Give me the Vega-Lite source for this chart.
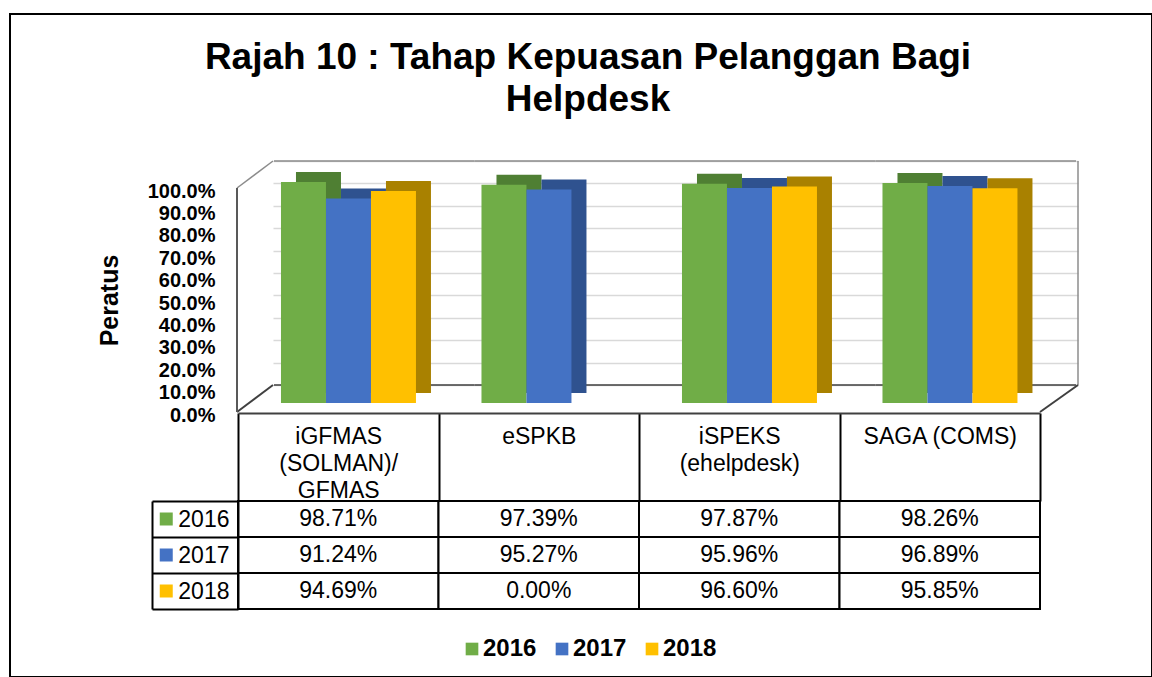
{
  "$schema": "https://vega.github.io/schema/vega-lite/v6.json",
  "autosize": {"type": "none"},
  "padding": {"left": 10, "top": 14, "right": 0, "bottom": 0},
  "width": 1142,
  "height": 663,
  "background": "white",
  "title": {
    "text": ["Rajah 10 : Tahap Kepuasan Pelanggan Bagi", "Helpdesk"],
    "fontSize": 37,
    "fontWeight": "bold",
    "font": "Liberation Sans",
    "color": "#000000",
    "anchor": "middle",
    "frame": "group",
    "offset": -116,
    "lineHeight": 42,
    "dx": 7
  },
  "data": {
    "values": [
      {"category": "iGFMAS (SOLMAN)/GFMAS", "year": "2016", "value": 0.9871},
      {"category": "iGFMAS (SOLMAN)/GFMAS", "year": "2017", "value": 0.9124},
      {"category": "iGFMAS (SOLMAN)/GFMAS", "year": "2018", "value": 0.9469},
      {"category": "eSPKB", "year": "2016", "value": 0.9739},
      {"category": "eSPKB", "year": "2017", "value": 0.9527},
      {"category": "eSPKB", "year": "2018", "value": 0.0},
      {"category": "iSPEKS (ehelpdesk)", "year": "2016", "value": 0.9787},
      {"category": "iSPEKS (ehelpdesk)", "year": "2017", "value": 0.9596},
      {"category": "iSPEKS (ehelpdesk)", "year": "2018", "value": 0.966},
      {"category": "SAGA (COMS)", "year": "2016", "value": 0.9826},
      {"category": "SAGA (COMS)", "year": "2017", "value": 0.9689},
      {"category": "SAGA (COMS)", "year": "2018", "value": 0.9585}
    ]
  },
  "encoding": {
    "x": {
      "field": "category",
      "type": "nominal",
      "scale": {
        "type": "band",
        "domain": ["iGFMAS (SOLMAN)/GFMAS", "eSPKB", "iSPEKS (ehelpdesk)", "SAGA (COMS)"],
        "range": [228, 1030],
        "paddingInner": 0,
        "paddingOuter": 0
      },
      "axis": null
    }
  },
  "layer": [
    {
      "mark": {"type": "point", "opacity": 0},
      "encoding": {
        "x": {
          "field": "category",
          "type": "nominal",
          "scale": {
            "type": "band",
            "domain": ["iGFMAS (SOLMAN)/GFMAS", "eSPKB", "iSPEKS (ehelpdesk)", "SAGA (COMS)"],
            "range": [263, 1068],
            "paddingInner": 0,
            "paddingOuter": 0
          },
          "axis": null
        },
        "y": {
          "field": "value",
          "type": "quantitative",
          "scale": {"domain": [0, 1], "range": [398, 174], "nice": false, "zero": false},
          "axis": {
            "orient": "left",
            "values": [0, 0.1, 0.2, 0.3, 0.4, 0.5, 0.6, 0.7, 0.8, 0.9, 1],
            "title": null,
            "labels": false,
            "ticks": false,
            "domain": false,
            "tickOffset": -27,
            "grid": true,
            "gridColor": "#D9D9D9",
            "gridWidth": 1.5
          }
        }
      }
    },
    {
      "transform": [{"filter": "datum.year == '2016'"}],
      "mark": {"type": "bar", "fill": null, "stroke": "#8C8C8C", "strokeWidth": 1.5, "xOffset": 36, "yOffset": -27, "y2Offset": -27},
      "encoding": {
        "y": {"datum": 1, "type": "quantitative", "scale": {"domain": [0, 1], "range": [398, 174], "nice": false, "zero": false}, "axis": null},
        "y2": {"datum": 1}
      }
    },
    {
      "transform": [{"filter": "datum.year == '2016'"}],
      "mark": {"type": "bar", "fill": null, "stroke": "#404040", "strokeWidth": 1.5, "xOffset": 36, "yOffset": -27, "y2Offset": -27},
      "encoding": {
        "y": {"datum": 0, "type": "quantitative", "scale": {"domain": [0, 1], "range": [398, 174], "nice": false, "zero": false}, "axis": null},
        "y2": {"datum": 0}
      }
    },
    {
      "transform": [{"filter": "datum.year == '2016' && datum.category == 'SAGA (COMS)'"}],
      "mark": {"type": "rule", "stroke": "#8C8C8C", "strokeWidth": 1.5, "xOffset": 38, "yOffset": -27, "y2Offset": -27},
      "encoding": {
        "x": {"field": "category", "type": "nominal", "bandPosition": 1, "scale": {"type": "band", "domain": ["iGFMAS (SOLMAN)/GFMAS", "eSPKB", "iSPEKS (ehelpdesk)", "SAGA (COMS)"], "range": [228, 1030], "paddingInner": 0, "paddingOuter": 0}, "axis": null},
        "y": {"datum": 0, "type": "quantitative", "scale": {"domain": [0, 1], "range": [398, 174], "nice": false, "zero": false}, "axis": null},
        "y2": {"datum": 1}
      }
    },
    {
      "transform": [{"filter": "datum.year == '2016' && datum.category == 'SAGA (COMS)'"}],
      "mark": {"type": "rule", "stroke": "#404040", "strokeWidth": 2, "x2Offset": 38, "y2Offset": -27},
      "encoding": {
        "x": {"field": "category", "type": "nominal", "bandPosition": 1, "scale": {"type": "band", "domain": ["iGFMAS (SOLMAN)/GFMAS", "eSPKB", "iSPEKS (ehelpdesk)", "SAGA (COMS)"], "range": [228, 1030], "paddingInner": 0, "paddingOuter": 0}, "axis": null},
        "x2": {"field": "category", "bandPosition": 1},
        "y": {"datum": 0, "type": "quantitative", "scale": {"domain": [0, 1], "range": [398, 174], "nice": false, "zero": false}, "axis": null},
        "y2": {"datum": 0}
      }
    },
    {
      "transform": [{"filter": "datum.year == '2016' && datum.category == 'iGFMAS (SOLMAN)/GFMAS'"}],
      "mark": {"type": "rule", "stroke": "#404040", "strokeWidth": 2, "xOffset": -1, "x2Offset": 35, "y2Offset": -27},
      "encoding": {
        "x": {"field": "category", "type": "nominal", "bandPosition": 0, "scale": {"type": "band", "domain": ["iGFMAS (SOLMAN)/GFMAS", "eSPKB", "iSPEKS (ehelpdesk)", "SAGA (COMS)"], "range": [228, 1030], "paddingInner": 0, "paddingOuter": 0}, "axis": null},
        "x2": {"field": "category", "bandPosition": 0},
        "y": {"datum": 0, "type": "quantitative", "scale": {"domain": [0, 1], "range": [398, 174], "nice": false, "zero": false}, "axis": null},
        "y2": {"datum": 0}
      }
    },
    {
      "transform": [{"filter": "datum.year == '2016' && datum.category == 'iGFMAS (SOLMAN)/GFMAS'"}],
      "mark": {"type": "rule", "stroke": "#8C8C8C", "strokeWidth": 1.5, "xOffset": -1, "x2Offset": 35, "y2Offset": -27},
      "encoding": {
        "x": {"field": "category", "type": "nominal", "bandPosition": 0, "scale": {"type": "band", "domain": ["iGFMAS (SOLMAN)/GFMAS", "eSPKB", "iSPEKS (ehelpdesk)", "SAGA (COMS)"], "range": [228, 1030], "paddingInner": 0, "paddingOuter": 0}, "axis": null},
        "x2": {"field": "category", "bandPosition": 0},
        "y": {"datum": 1, "type": "quantitative", "scale": {"domain": [0, 1], "range": [398, 174], "nice": false, "zero": false}, "axis": null},
        "y2": {"datum": 1}
      }
    },
    {
      "transform": [{"filter": "datum.year == '2016' && datum.category == 'iGFMAS (SOLMAN)/GFMAS'"}],
      "mark": {"type": "rule", "stroke": "#595959", "strokeWidth": 2, "xOffset": -1},
      "encoding": {
        "x": {"field": "category", "type": "nominal", "bandPosition": 0, "scale": {"type": "band", "domain": ["iGFMAS (SOLMAN)/GFMAS", "eSPKB", "iSPEKS (ehelpdesk)", "SAGA (COMS)"], "range": [228, 1030], "paddingInner": 0, "paddingOuter": 0}, "axis": null},
        "y": {"datum": 0, "type": "quantitative", "scale": {"domain": [0, 1], "range": [398, 174], "nice": false, "zero": false}, "axis": null},
        "y2": {"datum": 1}
      }
    },
    {
      "mark": {"type": "bar", "yOffset": -19, "y2Offset": -19},
      "encoding": {
        "xOffset": {
          "field": "year",
          "type": "nominal",
          "scale": {"type": "band", "domain": ["2016", "2017", "2018"], "paddingInner": 0, "paddingOuter": 0.728, "align": 0.885}
        },
        "y": {
          "field": "value",
          "type": "quantitative",
          "scale": {"domain": [0, 1], "range": [398, 174], "nice": false, "zero": false},
          "axis": null
        },
        "color": {
          "field": "year",
          "type": "nominal",
          "scale": {"domain": ["2016", "2017", "2018"], "range": ["#4F7F33", "#2F528F", "#A98100"]},
          "legend": null
        }
      }
    },
    {
      "mark": {"type": "bar", "yOffset": -9, "y2Offset": -9},
      "encoding": {
        "xOffset": {
          "field": "year",
          "type": "nominal",
          "scale": {"type": "band", "domain": ["2016", "2017", "2018"], "paddingInner": 0, "paddingOuter": 0.728, "align": 0.656}
        },
        "y": {
          "field": "value",
          "type": "quantitative",
          "scale": {"domain": [0, 1], "range": [398, 174], "nice": false, "zero": false},
          "axis": {
            "orient": "left",
            "offset": -227,
            "values": [0, 0.1, 0.2, 0.3, 0.4, 0.5, 0.6, 0.7, 0.8, 0.9, 1],
            "format": ".1%",
            "title": "Peratus",
            "titleFont": "Liberation Sans",
            "titleFontSize": 25,
            "titleFontWeight": "bold",
            "titleColor": "#000000",
            "titlePadding": 25,
            "labelFont": "Liberation Sans",
            "labelFontSize": 20,
            "labelFontWeight": "bold",
            "labelColor": "#000000",
            "labelPadding": 22,
            "labelOffset": 30,
            "labelOverlap": false,
            "labelFlush": false,
            "tickOffset": -27,
            "ticks": false,
            "domain": false,
            "grid": false
          }
        },
        "fill": {
          "field": "year",
          "type": "nominal",
          "scale": {"domain": ["2016", "2017", "2018"], "range": ["#70AD47", "#4472C4", "#FFC000"]},
          "legend": {
            "orient": "none",
            "legendX": 450,
            "legendY": 623,
            "direction": "horizontal",
            "title": null,
            "symbolType": "square",
            "symbolSize": 160,
            "symbolStrokeWidth": 0,
            "labelFont": "Liberation Sans",
            "labelFontSize": 24,
            "labelFontWeight": "bold",
            "labelColor": "#000000",
            "labelOffset": -1,
            "columnPadding": 13
          }
        }
      }
    },
    {
      "mark": {"type": "rect", "fill": "white", "stroke": "#000000", "strokeWidth": 2},
      "encoding": {
        "x": {
          "field": "category",
          "type": "nominal",
          "scale": {
            "type": "band",
            "domain": ["iGFMAS (SOLMAN)/GFMAS", "eSPKB", "iSPEKS (ehelpdesk)", "SAGA (COMS)"],
            "range": [228, 1030],
            "paddingInner": 0,
            "paddingOuter": 0
          },
          "axis": {
            "orient": "bottom",
            "offset": -264,
            "title": null,
            "domain": true,
            "domainColor": "#404040",
            "domainWidth": 2,
            "ticks": true,
            "tickBand": "extent",
            "tickSize": 88,
            "tickColor": "#000000",
            "tickWidth": 2,
            "grid": false,
            "labelAngle": 0,
            "labelBaseline": "top",
            "labelPadding": -76,
            "labelFontSize": 23,
            "labelFont": "Liberation Sans",
            "labelColor": "#000000",
            "labelLineHeight": 27,
            "labelLimit": 300,
            "labelOverlap": false,
            "labelExpr": "datum.label == 'SAGA (COMS)' ? datum.label : split(replace(datum.label, '/', '/ '), ' ')"
          }
        },
        "y": {
          "field": "year",
          "type": "nominal",
          "scale": {"type": "band", "domain": ["2016", "2017", "2018"], "range": [487, 595], "paddingInner": 0, "paddingOuter": 0},
          "axis": {
            "orient": "left",
            "offset": -228,
            "title": null,
            "domain": true,
            "domainColor": "#000000",
            "domainWidth": 2,
            "ticks": true,
            "tickBand": "extent",
            "tickSize": 86,
            "tickColor": "#000000",
            "tickWidth": 2,
            "grid": false,
            "labels": true,
            "labelFont": "Liberation Sans",
            "labelFontSize": 23,
            "labelColor": "#000000",
            "labelPadding": -77,
            "labelOverlap": false
          }
        }
      }
    },
    {
      "mark": {"type": "text", "font": "Liberation Sans", "fontSize": 23, "fill": "#000000"},
      "encoding": {
        "y": {
          "field": "year",
          "type": "nominal",
          "scale": {"type": "band", "domain": ["2016", "2017", "2018"], "range": [487, 595], "paddingInner": 0, "paddingOuter": 0},
          "axis": null
        },
        "text": {"field": "value", "type": "quantitative", "format": ".2%"}
      }
    },
    {
      "transform": [{"filter": "datum.category == 'iGFMAS (SOLMAN)/GFMAS'"}],
      "mark": {"type": "square", "size": 169, "xOffset": -172, "opacity": 1},
      "encoding": {
        "y": {
          "field": "year",
          "type": "nominal",
          "scale": {"type": "band", "domain": ["2016", "2017", "2018"], "range": [487, 595], "paddingInner": 0, "paddingOuter": 0},
          "axis": {
            "orient": "left",
            "offset": -142,
            "title": null,
            "domain": true,
            "domainColor": "#000000",
            "domainWidth": 2,
            "ticks": false,
            "labels": false,
            "grid": false
          }
        },
        "fill": {
          "field": "year",
          "type": "nominal",
          "scale": {"domain": ["2016", "2017", "2018"], "range": ["#70AD47", "#4472C4", "#FFC000"]},
          "legend": {
            "orient": "none",
            "legendX": 450,
            "legendY": 623,
            "direction": "horizontal",
            "title": null,
            "symbolType": "square",
            "symbolSize": 160,
            "symbolStrokeWidth": 0,
            "labelFont": "Liberation Sans",
            "labelFontSize": 24,
            "labelFontWeight": "bold",
            "labelColor": "#000000",
            "labelOffset": -1,
            "columnPadding": 13
          }
        }
      }
    }
  ],
  "resolve": {"scale": {"x": "independent", "y": "independent", "color": "independent", "xOffset": "independent"}},
  "config": {
    "font": "Liberation Sans",
    "view": {"stroke": "#000000", "strokeWidth": 2}
  }
}
